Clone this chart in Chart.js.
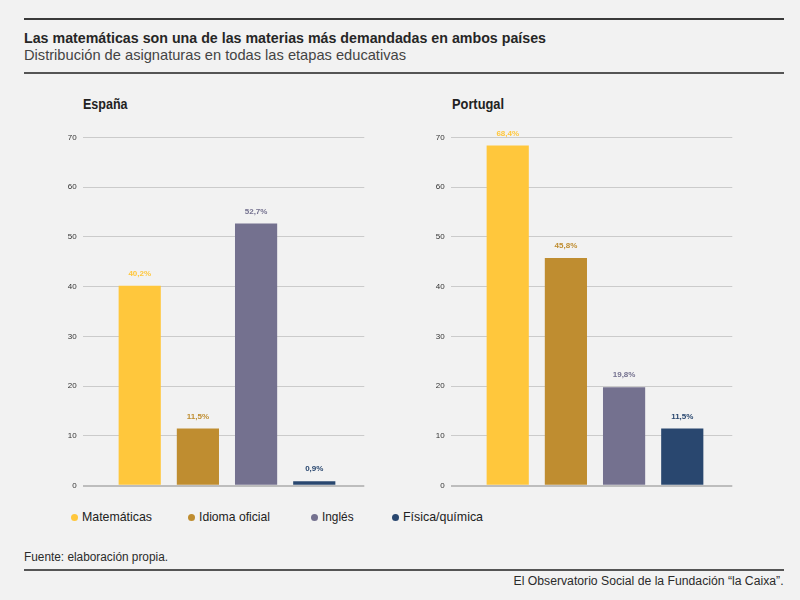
<!DOCTYPE html>
<html lang="es">
<head>
<meta charset="utf-8">
<script src="https://cdn.jsdelivr.net/npm/chart.js@4.4.1/dist/chart.umd.min.js"></script>
<style>
  body {
    margin: 0;
    width: 800px;
    height: 600px;
    position: relative;
    overflow: hidden;
    background: #f2f2f2;
    color: #2b2b2b;
    font-family: "Liberation Sans", Arial, sans-serif;
  }
  .rule { position: absolute; left: 24px; width: 760px; height: 2px; background: #3a3a3a; }
  .txt { position: absolute; white-space: nowrap; transform-origin: 0 50%; }
  .title { left: 24px; top: 29px; font-size: 15px; line-height: 18px; font-weight: bold; color: #262626; }
  .subtitle { left: 24px; top: 46px; font-size: 14.5px; line-height: 18px; color: #444; }
  .panel { top: 95px; font-size: 14px; line-height: 18px; font-weight: bold; color: #222; }
  .chartbox { position: absolute; top: 120px; width: 345px; height: 380px; }
  .legend-dot { position: absolute; top: 513.5px; width: 7px; height: 7px; border-radius: 50%; }
  .legend-item { top: 509px; font-size: 13px; line-height: 16px; color: #222; }
  .source { left: 24px; top: 549px; font-size: 12.5px; line-height: 16px; }
  .credit { top: 573px; font-size: 12.5px; line-height: 16px; transform-origin: 100% 50%; }
</style>
</head>
<body>
<div class="rule" style="top:18px"></div>
<div class="txt title" data-fit="522">Las matemáticas son una de las materias más demandadas en ambos países</div>
<div class="txt subtitle" data-fit="382">Distribución de asignaturas en todas las etapas educativas</div>
<div class="rule" style="top:72px; background:#555"></div>

<div class="txt panel" style="left:83px" data-fit="44.5">España</div>
<div class="txt panel" style="left:451.5px" data-fit="52">Portugal</div>

<div class="chartbox" style="left:30px"><canvas id="espanaCanvas" width="345" height="380"></canvas></div>
<div class="chartbox" style="left:398px"><canvas id="portugalCanvas" width="345" height="380"></canvas></div>

<div id="legend"></div>

<div class="txt source" data-fit="144">Fuente: elaboración propia.</div>
<div class="rule" style="top:569px; background:#555"></div>
<div class="txt credit" style="right:16px" data-fit="270">El Observatorio Social de la Fundación “la Caixa”.</div>

<script>
// Data
const categories = ['Matemáticas', 'Idioma oficial', 'Inglés', 'Física/química'];
const espanaValues = [40.2, 11.5, 52.7, 0.9];
const portugalValues = [68.4, 45.8, 19.8, 11.5];
const yTicks = [0, 10, 20, 30, 40, 50, 60, 70];

const barColors = ['#ffc73c', '#bf8d30', '#74718f', '#29476f'];
const legendDotLeft = [71, 188, 311, 392];
const legendTextLeft = [81.6, 199, 322.4, 402.6];
const legendTextWidth = [70, 71, 31.6, 80];

// Legend
const legend = document.getElementById('legend');
categories.forEach((name, i) => {
    const dot = document.createElement('div');
    dot.className = 'legend-dot';
    dot.style.left = legendDotLeft[i] + 'px';
    dot.style.background = barColors[i];
    legend.appendChild(dot);

    const item = document.createElement('div');
    item.className = 'txt legend-item';
    item.style.left = legendTextLeft[i] + 'px';
    item.dataset.fit = legendTextWidth[i];
    item.textContent = name;
    legend.appendChild(item);
});

// squeeze texts to the condensed widths of the original
document.querySelectorAll('[data-fit]').forEach(el => {
    const w = el.getBoundingClientRect().width;
    el.style.transform = `scaleX(${parseFloat(el.dataset.fit) / w})`;
});

function formatValue(v) {
    return v.toFixed(1).replace('.', ',') + '%';
}

// Labels above the bars
const valueLabels = {
    id: 'valueLabels',
    afterDatasetsDraw(chart) {
        const ctx = chart.ctx;
        const meta = chart.getDatasetMeta(0);
        ctx.save();
        ctx.font = 'bold 8px "Liberation Sans", Arial, sans-serif';
        ctx.textAlign = 'center';
        ctx.textBaseline = 'middle';
        meta.data.forEach((bar, i) => {
            ctx.fillStyle = barColors[i];
            ctx.fillText(formatValue(chart.data.datasets[0].data[i].y), bar.x, bar.y - 12);
        });
        ctx.restore();
    }
};

function createChart(canvasId, values) {
    const context = document.getElementById(canvasId).getContext('2d');

    new Chart(context, {
        type: 'bar',
        data: {
            datasets: [
                {
                    data: values.map((v, i) => ({ x: i, y: v })),
                    backgroundColor: barColors,
                    categoryPercentage: 1,
                    barPercentage: 0.725
                }
            ]
        },
        options: {
            responsive: false,
            animation: false,
            devicePixelRatio: 1,
            layout: {
                padding: { top: 17.5, right: 10.7, bottom: 14.3, left: 0 }
            },
            plugins: {
                legend: { display: false },
                tooltip: { enabled: false }
            },
            scales: {
                x: {
                    type: 'linear',
                    min: -0.98,
                    max: 3.86,
                    offset: false,
                    display: false,
                    afterBuildTicks: scale => {
                        scale.ticks = categories.map((c, i) => ({ value: i }));
                    }
                },
                y: {
                    min: yTicks[0],
                    max: yTicks[yTicks.length - 1],
                    afterBuildTicks: scale => {
                        scale.ticks = yTicks.map(v => ({ value: v }));
                    },
                    afterFit: scale => {
                        scale.width = 52.7;
                    },
                    border: { display: false },
                    grid: {
                        drawTicks: false,
                        color: c => c.tick.value === 0 ? '#bdbdbd' : '#cbcbcb',
                        lineWidth: c => c.tick.value === 0 ? 2 : 1
                    },
                    ticks: {
                        padding: 6,
                        color: '#333',
                        font: { size: 8, family: '"Liberation Sans", Arial, sans-serif' }
                    }
                }
            }
        },
        plugins: [valueLabels]
    });
}

createChart('espanaCanvas', espanaValues);
createChart('portugalCanvas', portugalValues);
</script>
</body>
</html>
